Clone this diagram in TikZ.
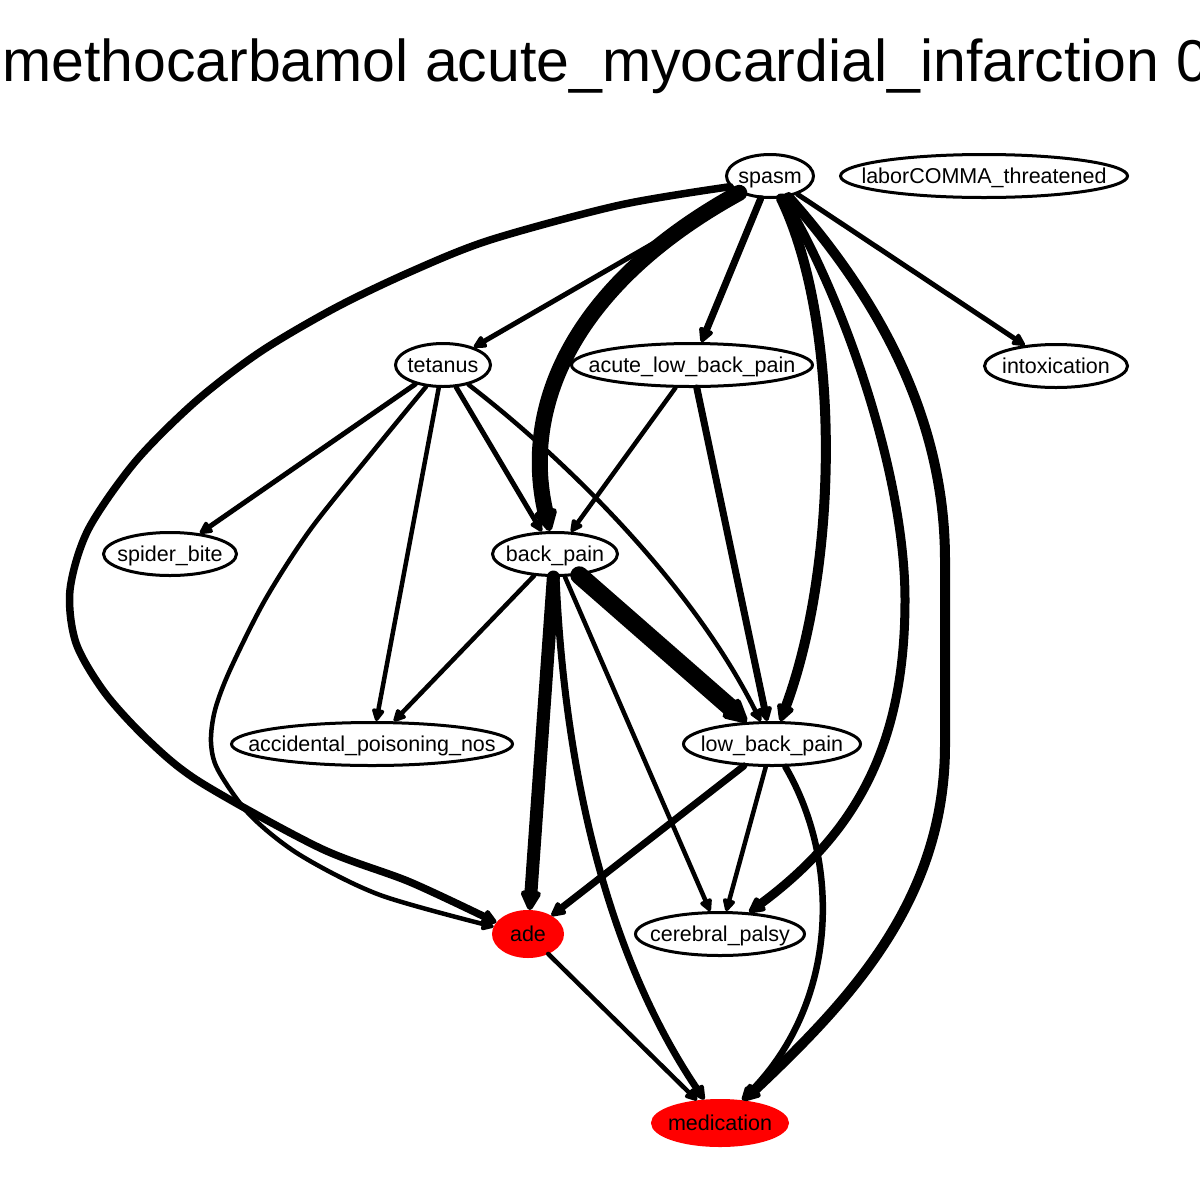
\documentclass[tikz,border=0pt]{standalone}
\usepackage{fontspec}
\setmainfont{Liberation Sans}
\usetikzlibrary{shapes.geometric,arrows.meta}
\newcommand\nlbl[1]{\makebox[0pt]{\raisebox{-0.37em}[0pt][0pt]{#1}}}
\begin{document}
\begin{tikzpicture}[x=1pt,y=-1pt,
  nd/.style={ellipse,draw=black,line width=3pt,fill=white,inner sep=0pt,
    font=\fontsize{21.5}{24}\selectfont},
  rednd/.style={nd,draw=red,fill=red},
  ed/.style={line cap=round,line join=round,
    -{Triangle[length=10pt 1,width=9pt 1,round]}},
]
\useasboundingbox (0,0) rectangle (1200,1200);
\fill[white] (0,0) rectangle (1200,1200);
\node[anchor=base west,inner sep=0pt,font=\fontsize{59}{66}\selectfont] (title) at (2,81)
  {methocarbamol acute\_myocardial\_infarction 0};

\node[nd,minimum width=87pt,minimum height=43pt] (spasm) at (770,176) {\nlbl{spasm}};
\node[nd,minimum width=287pt,minimum height=43pt] (labor) at (984,176) {\nlbl{laborCOMMA\_threatened}};
\node[nd,minimum width=95pt,minimum height=43pt] (tetanus) at (443,365) {\nlbl{tetanus}};
\node[nd,minimum width=241pt,minimum height=43pt] (albp) at (692,365) {\nlbl{acute\_low\_back\_pain}};
\node[nd,minimum width=143pt,minimum height=43pt] (intox) at (1056,366) {\nlbl{intoxication}};
\node[nd,minimum width=133pt,minimum height=43pt] (spider) at (170,554) {\nlbl{spider\_bite}};
\node[nd,minimum width=125pt,minimum height=43pt] (back) at (555,554) {\nlbl{back\_pain}};
\node[nd,minimum width=281pt,minimum height=43pt] (accid) at (372,744) {\nlbl{accidental\_poisoning\_nos}};
\node[nd,minimum width=177pt,minimum height=43pt] (lbp) at (772,744) {\nlbl{low\_back\_pain}};
\node[rednd,minimum width=69pt,minimum height=45pt] (ade) at (528,934) {\nlbl{ade}};
\node[nd,minimum width=169pt,minimum height=43pt] (cp) at (720,934) {\nlbl{cerebral\_palsy}};
\node[rednd,minimum width=135pt,minimum height=45pt] (med) at (720,1123) {\nlbl{medication}};

% spasm edges
\draw[ed,line width=5pt] (spasm) -- (tetanus);
\draw[ed,line width=16pt] (spasm) .. controls (580,280) and (520,400) .. (back);
\draw[ed,line width=7pt] (spasm) -- (albp);
\draw[ed,line width=10pt] (spasm) .. controls (840,320) and (840,560) .. (lbp);
\draw[ed,line width=9pt] (spasm) .. controls (840,290) and (905,470) .. (905,600)
   .. controls (905,740) and (860,830) .. (cp);
\draw[ed,line width=10pt] (spasm) .. controls (880,300) and (945,420) .. (945,560)
   -- (945,745) .. controls (945,900) and (850,1000) .. (med);
\draw[ed,line width=5pt] (spasm) -- (intox);
\draw[ed,line width=7.5pt] plot[smooth,tension=0.5] coordinates {(spasm.195) (620,205) (490,240)
   (410,272) (335,308) (260,352) (195,402) (135,462) (88,530) (70,590) (76,643) (105,693)
   (148,740) (200,782) (320,848) (410,882) (ade.160)};

% tetanus edges
\draw[ed,line width=5pt] (tetanus) -- (spider);
\draw[ed,line width=4.5pt] plot[smooth,tension=0.5] coordinates {(tetanus.232) (370,455) (310,530)
   (265,600) (230,670) (215,710) (211,742) (218,770) (250,815) (300,855) (380,895) (ade.168)};
\draw[ed,line width=4.5pt] (tetanus) -- (accid);
\draw[ed,line width=5pt] (tetanus) -- (back);
\draw[ed,line width=4.5pt] (tetanus) .. controls (560,455) and (690,580) .. (lbp);

% acute_low_back_pain edges
\draw[ed,line width=4.5pt] (albp) -- (back);
\draw[ed,line width=7pt] (albp) -- (lbp);

% back_pain edges
\draw[ed,line width=4.5pt] (back) -- (accid);
\draw[ed,line width=13pt] (back) -- (ade);
\draw[ed,line width=7pt] (back) .. controls (565,780) and (610,960) .. (med);
\draw[ed,line width=18pt] (back) -- (lbp);
\draw[ed,line width=4.5pt] (back) -- (cp);

% low_back_pain edges
\draw[ed,line width=7pt] (lbp) -- (ade);
\draw[ed,line width=4.5pt] (lbp) -- (cp);
\draw[ed,line width=6.5pt] (lbp) .. controls (840,860) and (840,1000) .. (med);

% ade edge
\draw[ed,line width=4.5pt] (ade) -- (med);
\end{tikzpicture}
\end{document}
